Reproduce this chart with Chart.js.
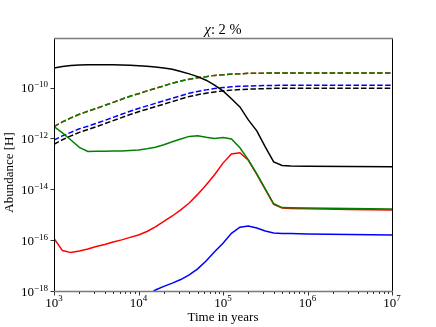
<!DOCTYPE html>
<html lang="en">
<head>
<meta charset="UTF-8">
<title>Abundance vs time</title>
<style>
  body { margin: 0; background: #fff; }
  canvas { display: block; }
</style>
</head>
<body>
<canvas id="abundChart" width="436" height="327"></canvas>
<script src="https://cdn.jsdelivr.net/npm/chart.js@4"></script>
<script>
// sample times, log10(years)
const logTime = [3.0, 3.1, 3.2, 3.3, 3.4, 3.5, 3.6, 3.7, 3.8, 3.9,
                 4.0, 4.1, 4.2, 4.3, 4.4, 4.5, 4.6, 4.7, 4.8, 4.9,
                 5.0, 5.1, 5.2, 5.3, 5.4, 5.5, 5.6, 5.7, 5.8, 6.0, 6.5, 7.0];

// abundances, log10 of value relative to H
const blackSolid = [-9.23, -9.17, -9.13, -9.11, -9.10, -9.10, -9.10, -9.10, -9.11, -9.12,
                    -9.14, -9.16, -9.19, -9.23, -9.28, -9.37, -9.46, -9.57, -9.71, -9.90,
                    -10.13, -10.44, -10.76, -11.27, -11.70, -12.33, -12.92, -13.06, -13.08, -13.09, -13.10, -13.11];
const greenSolid = [-11.53, -11.78, -12.06, -12.35, -12.51, -12.50, -12.50, -12.49, -12.49, -12.47,
                    -12.45, -12.41, -12.35, -12.25, -12.13, -12.02, -11.92, -11.89, -11.95, -12.00,
                    -11.96, -12.02, -12.37, -12.84, -13.39, -13.98, -14.57, -14.72, -14.73, -14.74, -14.76, -14.78];
const redSolid = [-15.93, -16.41, -16.49, -16.43, -16.35, -16.25, -16.17, -16.07, -15.99, -15.89,
                  -15.80, -15.66, -15.48, -15.26, -15.05, -14.81, -14.54, -14.20, -13.83, -13.43,
                  -12.97, -12.61, -12.56, -12.86, -13.41, -14.00, -14.59, -14.74, -14.76, -14.77, -14.79, -14.81];
const blueSolid = [null, null, null, null, null, null, null, null, null, null,
                   -18.45, -18.20, -17.96, -17.82, -17.69, -17.55, -17.37, -17.13, -16.82, -16.46,
                   -16.12, -15.73, -15.49, -15.44, -15.52, -15.64, -15.72, -15.74, -15.74, -15.76, -15.78, -15.80];
const greenDashed = [-11.53, -11.35, -11.19, -11.05, -10.93, -10.82, -10.70, -10.58, -10.46, -10.34,
                     -10.24, -10.13, -10.03, -9.93, -9.83, -9.74, -9.67, -9.61, -9.57, -9.52,
                     -9.50, -9.47, -9.46, -9.44, -9.44, -9.43, -9.43, -9.43, -9.43, -9.43, -9.43, -9.43];
const redDashed = [-11.53, -11.35, -11.19, -11.05, -10.93, -10.82, -10.70, -10.58, -10.46, -10.34,
                   -10.24, -10.13, -10.03, -9.93, -9.83, -9.74, -9.67, -9.61, -9.57, -9.52,
                   -9.50, -9.47, -9.46, -9.44, -9.44, -9.43, -9.43, -9.43, -9.43, -9.43, -9.43, -9.43];
const blueDashed = [-12.06, -11.90, -11.76, -11.62, -11.52, -11.41, -11.29, -11.17, -11.05, -10.93,
                    -10.82, -10.72, -10.62, -10.52, -10.42, -10.32, -10.22, -10.15, -10.09, -10.04,
                    -10.00, -9.97, -9.95, -9.94, -9.93, -9.92, -9.92, -9.91, -9.91, -9.91, -9.91, -9.91];
const blackDashed = [-12.23, -12.05, -11.90, -11.76, -11.65, -11.54, -11.42, -11.30, -11.18, -11.06,
                     -10.95, -10.85, -10.75, -10.65, -10.55, -10.45, -10.35, -10.28, -10.22, -10.17,
                     -10.13, -10.10, -10.08, -10.06, -10.05, -10.04, -10.03, -10.03, -10.03, -10.03, -10.03, -10.03];

const xTickExps = [3, 4, 5, 6, 7];
const yTickExps = [-10, -12, -14, -16, -18];

const FONT = '"Liberation Serif", "DejaVu Serif", serif';
const DASH = [5.5, 2.4];

function toPoints(arr) {
    return logTime.map((t, i) => ({ x: Math.pow(10, t), y: arr[i] === null ? null : Math.pow(10, arr[i]) }));
}

function series(arr, color, dashed) {
    return {
        data: toPoints(arr),
        borderColor: color,
        borderWidth: 1.5,
        borderDash: dashed ? DASH : [],
        pointRadius: 0,
        fill: false,
        tension: 0
    };
}

// draws "10" with a raised exponent
function drawPow(ctx, exp, x, y, align, raise) {
    const e = exp < 0 ? '\u2212' + (-exp) : String(exp);
    ctx.font = '13px ' + FONT;
    const wb = ctx.measureText('10').width;
    ctx.font = '9px ' + FONT;
    const we = ctx.measureText(e).width;
    const x0 = align === 'right' ? x - wb - we : x - (wb + we) / 2;
    ctx.textAlign = 'left';
    ctx.textBaseline = 'alphabetic';
    ctx.font = '13px ' + FONT;
    ctx.fillText('10', x0, y);
    ctx.font = '9px ' + FONT;
    ctx.fillText(e, x0 + wb, y - raise);
}

const axesPlugin = {
    id: 'axesPlugin',
    beforeDraw(chart) {
        const ctx = chart.ctx;
        ctx.save();
        ctx.fillStyle = '#fff';
        ctx.fillRect(0, 0, chart.width, chart.height);
        ctx.restore();
    },
    afterDraw(chart) {
        const ctx = chart.ctx;
        const a = chart.chartArea;
        const xs = chart.scales.x, ys = chart.scales.y;
        ctx.save();

        // frame
        ctx.lineWidth = 1;
        ctx.strokeStyle = '#000';
        ctx.beginPath();
        ctx.moveTo(a.left + 0.5, a.top); ctx.lineTo(a.left + 0.5, a.bottom + 0.5);
        ctx.moveTo(a.right + 0.5, a.top); ctx.lineTo(a.right + 0.5, a.bottom + 0.5);
        ctx.stroke();
        ctx.strokeStyle = '#7a7a7a';
        ctx.lineWidth = 1.4;
        ctx.beginPath();
        ctx.moveTo(a.left, a.top + 0.5); ctx.lineTo(a.right + 1, a.top + 0.5);
        ctx.moveTo(a.left, a.bottom + 0.5); ctx.lineTo(a.right + 1, a.bottom + 0.5);
        ctx.stroke();

        // x ticks
        ctx.strokeStyle = '#000';
        ctx.lineWidth = 0.8;
        ctx.beginPath();
        for (let d = 3; d <= 7; d++) {
            for (let m = 1; m <= 9; m++) {
                if (d === 7 && m > 1) break;
                const px = Math.round(xs.getPixelForValue(m * Math.pow(10, d))) + 0.5;
                const len = m === 1 ? 3.5 : 2;
                ctx.moveTo(px, a.bottom + 1);
                ctx.lineTo(px, a.bottom + 1 + len);
            }
        }
        // y ticks
        yTickExps.forEach(e => {
            const py = Math.round(ys.getPixelForValue(Math.pow(10, e))) + 0.5;
            ctx.moveTo(a.left, py);
            ctx.lineTo(a.left - 3.5, py);
        });
        ctx.stroke();

        // tick labels
        ctx.fillStyle = '#000';
        xTickExps.forEach(e => {
            const px = xs.getPixelForValue(Math.pow(10, e));
            drawPow(ctx, e, px, 307, 'center', 6);
        });
        yTickExps.forEach(e => {
            const py = ys.getPixelForValue(Math.pow(10, e));
            drawPow(ctx, e, 48, py + 4.5, 'right', 5);
        });

        // axis titles
        ctx.font = '13px ' + FONT;
        ctx.textAlign = 'center';
        ctx.textBaseline = 'alphabetic';
        ctx.fillText('Time in years', (a.left + a.right) / 2, 321);
        ctx.save();
        ctx.translate(12.5, (a.top + a.bottom) / 2 + 8);
        ctx.rotate(-Math.PI / 2);
        ctx.fillText('Abundance [H]', 0, 0);
        ctx.restore();

        // title
        ctx.textAlign = 'left';
        ctx.font = 'italic 14.5px ' + FONT;
        const wc = ctx.measureText('\u03C7').width;
        ctx.font = '14.5px ' + FONT;
        const wr = ctx.measureText(': 2 %').width;
        const tx = (a.left + a.right) / 2 - (wc + wr) / 2;
        ctx.font = 'italic 14.5px ' + FONT;
        ctx.fillText('\u03C7', tx, 33.5);
        ctx.font = '14.5px ' + FONT;
        ctx.fillText(': 2 %', tx + wc, 33.5);

        ctx.restore();
    }
};

new Chart(document.getElementById('abundChart').getContext('2d'), {
    type: 'line',
    data: {
        datasets: [
            series(greenSolid, '#008000', false),
            series(redSolid, '#ff0000', false),
            series(blackSolid, '#000000', false),
            series(blueSolid, '#0000ff', false),
            series(greenDashed, '#008000', true),
            series(redDashed, '#ff0000', true),
            series(blueDashed, '#0000ff', true),
            series(blackDashed, '#000000', true)
        ]
    },
    options: {
        responsive: false,
        animation: false,
        events: [],
        layout: { padding: { left: 54, right: 44, top: 38, bottom: 36 } },
        plugins: { legend: { display: false }, tooltip: { enabled: false }, title: { display: false } },
        scales: {
            x: { type: 'logarithmic', min: 1e3, max: 1e7, display: false },
            y: { type: 'logarithmic', min: 1e-18, max: Math.pow(10, -8.05), display: false }
        }
    },
    plugins: [axesPlugin]
});
</script>
</body>
</html>
